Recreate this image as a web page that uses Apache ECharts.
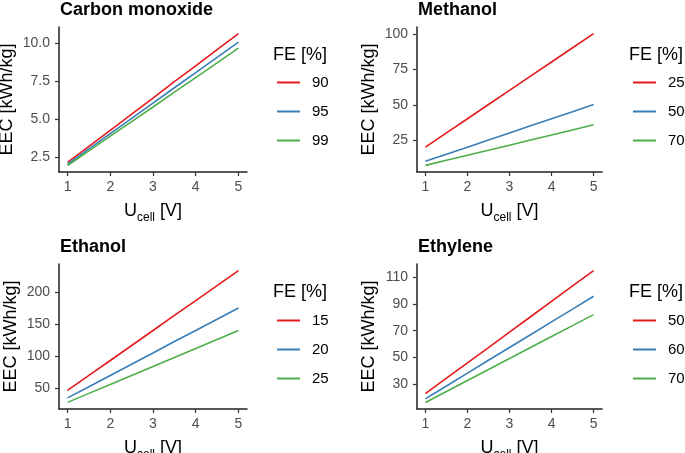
<!DOCTYPE html>
<html>
<head>
<meta charset="utf-8">
<script src="https://cdn.jsdelivr.net/npm/echarts@6/dist/echarts.min.js"></script>
<style>
html,body{margin:0;padding:0;background:#fff;}
#chart{width:685px;height:453px;}
</style>
</head>
<body>
<div id="chart"></div>
<script>
// ---- data ----
const ucell = [1, 1.5, 2, 2.5, 3, 3.5, 4, 4.5, 5];

const panelTitles = ['Carbon monoxide', 'Methanol', 'Ethanol', 'Ethylene'];

const coFE = ['90', '95', '99'];
const coFE90 = [2.13, 3.19, 4.25, 5.32, 6.38, 7.47, 8.51, 9.57, 10.63];
const coFE95 = [2.02, 3.02, 4.03, 5.04, 6.04, 7.06, 8.06, 9.07, 10.07];
const coFE99 = [1.93, 2.90, 3.87, 4.83, 5.79, 6.77, 7.73, 8.70, 9.67];

const meFE = ['25', '50', '70'];
const meFE25 = [20.1, 30.2, 40.2, 50.3, 60.3, 70.4, 80.4, 90.5, 100.5];
const meFE50 = [10.1, 15.1, 20.1, 25.1, 30.2, 35.2, 40.2, 45.2, 50.3];
const meFE70 = [7.2, 10.8, 14.4, 17.9, 21.5, 25.1, 28.7, 32.3, 35.9];

const etFE = ['15', '20', '25'];
const etFE15 = [46.6, 69.9, 93.2, 116.5, 139.8, 163.3, 186.4, 209.7, 233.0];
const etFE20 = [35.0, 52.4, 69.9, 87.4, 104.9, 122.8, 139.8, 157.3, 174.8];
const etFE25 = [28.0, 42.0, 55.9, 69.9, 83.9, 97.9, 111.9, 125.9, 139.8];

const eyFE = ['50', '60', '70'];
const eyFE50 = [23.0, 34.5, 45.9, 57.4, 68.9, 80.4, 91.9, 103.4, 114.9];
const eyFE60 = [19.1, 28.7, 38.3, 47.9, 57.4, 67.0, 76.6, 86.1, 95.7];
const eyFE70 = [16.4, 24.6, 32.8, 41.0, 49.2, 57.4, 65.6, 73.8, 82.0];

const xTicks = [1, 2, 3, 4, 5];
const coTicks = [2.5, 5.0, 7.5, 10.0];
const meTicks = [25, 50, 75, 100];
const etTicks = [50, 100, 150, 200];
const eyTicks = [30, 50, 70, 90, 110];

// ---- layout / style ----
const colors = ['#E41A1C', '#377EB8', '#4DAF4A'];
const panels = [
  {fe: coFE, vals: [coFE90, coFE95, coFE99], ticks: coTicks, fmt: v => v.toFixed(1), ymin: 1.5, ymax: 11.07, yGap: 43,
   grid: {left: 59, top: 27, width: 188, height: 145}, titlePos: [60, 1], legTitle: [273, 56], leg: [277, 74]},
  {fe: meFE, vals: [meFE25, meFE50, meFE70], ticks: meTicks, fmt: v => String(v), ymin: 2.5, ymax: 105.2, yGap: 39,
   grid: {left: 417, top: 27, width: 185, height: 145}, titlePos: [418, 1], legTitle: [629, 56], leg: [633, 74]},
  {fe: etFE, vals: [etFE15, etFE20, etFE25], ticks: etTicks, fmt: v => String(v), ymin: 17.7, ymax: 243.3, yGap: 39,
   grid: {left: 59, top: 264, width: 188, height: 145}, titlePos: [60, 238], legTitle: [273, 293], leg: [277, 312]},
  {fe: eyFE, vals: [eyFE50, eyFE60, eyFE70], ticks: eyTicks, fmt: v => String(v), ymin: 11.5, ymax: 119.8, yGap: 39,
   grid: {left: 417, top: 264, width: 185, height: 145}, titlePos: [418, 238], legTitle: [629, 293], leg: [633, 312]}
];

const option = {
  animation: false,
  backgroundColor: '#fff',
  title: [], grid: [], xAxis: [], yAxis: [], series: [], legend: [], graphic: []
};

const fontFam = 'Liberation Sans, Arial, sans-serif';

panels.forEach((p, i) => {
  option.title.push({
    text: panelTitles[i], left: p.titlePos[0], top: p.titlePos[1], padding: 0,
    textStyle: {fontFamily: fontFam, fontSize: 18, fontWeight: 'bold', color: '#000'}
  });
  option.grid.push(Object.assign({containLabel: false, outerBoundsMode: 'none'}, p.grid));
  option.xAxis.push({
    type: 'value', gridIndex: i, min: 0.8, max: 5.2,
    name: '{u|U}{s|cell}{u| [V]}', nameLocation: 'middle', nameGap: 26, nameMoveOverlap: false,
    nameTextStyle: {
      fontFamily: fontFam, color: '#000',
      rich: {
        u: {fontFamily: fontFam, fontSize: 18, color: '#000', verticalAlign: 'bottom', lineHeight: 22},
        s: {fontFamily: fontFam, fontSize: 12, color: '#000', verticalAlign: 'bottom', lineHeight: 22, padding: [0, 0, -4, 0]}
      }
    },
    splitLine: {show: false},
    axisLine: {show: true, onZero: false, lineStyle: {color: '#222', width: 1.5}},
    axisTick: {show: true, length: 4, lineStyle: {color: '#333', width: 1.2}, customValues: xTicks},
    axisLabel: {fontFamily: fontFam, fontSize: 14, color: '#4D4D4D', margin: 8, customValues: xTicks}
  });
  option.yAxis.push({
    type: 'value', gridIndex: i, min: p.ymin, max: p.ymax,
    name: 'EEC [kWh/kg]', nameLocation: 'middle', nameGap: p.yGap, nameRotate: 90, nameMoveOverlap: false,
    nameTextStyle: {fontFamily: fontFam, fontSize: 18, color: '#000'},
    splitLine: {show: false},
    axisLine: {show: true, onZero: false, lineStyle: {color: '#222', width: 1.5}},
    axisTick: {show: true, length: 4, lineStyle: {color: '#333', width: 1.2}, customValues: p.ticks},
    axisLabel: {fontFamily: fontFam, fontSize: 14, color: '#4D4D4D', margin: 9, customValues: p.ticks, formatter: p.fmt}
  });
  const names = [];
  p.fe.forEach((fe, k) => {
    const nm = 'p' + i + '|' + fe;
    names.push(nm);
    option.series.push({
      type: 'line', name: nm, xAxisIndex: i, yAxisIndex: i,
      data: ucell.map((u, j) => [u, p.vals[k][j]]),
      showSymbol: false, symbol: 'none',
      lineStyle: {color: colors[k], width: 1.6},
      itemStyle: {color: colors[k]}
    });
  });
  option.legend.push({
    data: names, orient: 'vertical', left: p.leg[0], top: p.leg[1], padding: 0,
    icon: 'rect', itemWidth: 23, itemHeight: 2, itemGap: 12,
    selectedMode: false,
    formatter: n => n.split('|')[1],
    textStyle: {fontFamily: fontFam, fontSize: 15, color: '#000', lineHeight: 17, padding: [0, 0, 0, 7]}
  });
  option.graphic.push({
    type: 'text', left: p.legTitle[0], top: p.legTitle[1] - 10,
    style: {text: 'FE [%]', fontFamily: fontFam, fontSize: 18, fill: '#000'}
  });
});

const chart = echarts.init(document.getElementById('chart'), null, {renderer: 'canvas'});
chart.setOption(option);
</script>
</body>
</html>
